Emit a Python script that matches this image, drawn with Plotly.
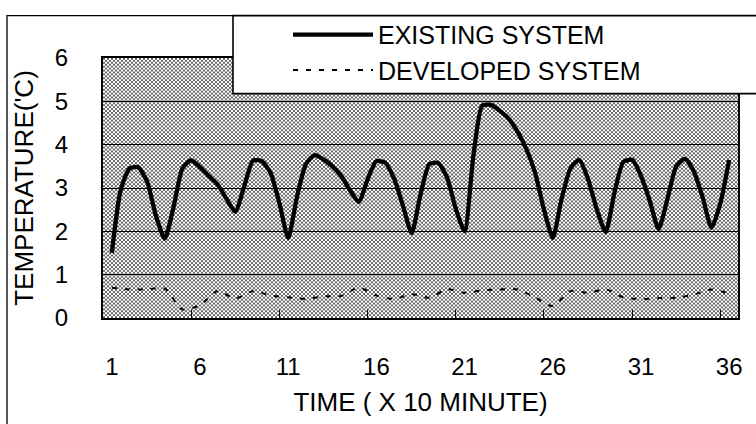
import base64
import struct
import zlib
import plotly.graph_objects as go

# ---- data (time in units of 10 minutes, temperature in deg C) ----
time_existing = [1 + 0.5 * i for i in range(71)]
temp_existing = [
    1.50, 2.95, 3.45, 3.48, 3.15, 2.36, 1.83, 2.56, 3.45, 3.64,
    3.48, 3.28, 3.08, 2.75, 2.45, 3.03, 3.63, 3.62, 3.35, 2.65,
    1.85, 2.80, 3.55, 3.76, 3.66, 3.50, 3.28, 2.95, 2.68, 3.20,
    3.62, 3.58, 3.22, 2.60, 1.96, 2.85, 3.55, 3.58, 3.25, 2.52,
    2.00, 3.75, 4.90, 4.92, 4.78, 4.60, 4.30, 3.90, 3.35, 2.50,
    1.85, 2.75, 3.45, 3.65, 3.20, 2.50, 1.98, 2.90, 3.60, 3.65,
    3.28, 2.70, 2.05, 2.75, 3.50, 3.67, 3.38, 2.78, 2.08, 2.65,
    3.65,
]
time_developed = list(range(1, 37))
temp_developed = [
    0.70, 0.66, 0.66, 0.68, 0.20, 0.30, 0.62, 0.45, 0.62, 0.52,
    0.48, 0.44, 0.50, 0.51, 0.70, 0.52, 0.44, 0.55, 0.47, 0.66,
    0.58, 0.64, 0.66, 0.66, 0.47, 0.28, 0.62, 0.58, 0.66, 0.48,
    0.44, 0.46, 0.47, 0.54, 0.66, 0.56,
]
x_tick_values = [1, 6, 11, 16, 21, 26, 31, 36]
x_tick_labels = ["1", "6", "11", "16", "21", "26", "31", "36"]
x_minor_ticks = [5.5, 10.5, 15.5, 20.5, 25.5, 30.5, 35.5]
y_tick_values = [0, 1, 2, 3, 4, 5, 6]
series_names = ["EXISTING SYSTEM", "DEVELOPED SYSTEM"]


def stipple_png(w, h):
    rows = bytearray()
    for y in range(h):
        rows.append(0)
        for x in range(w):
            black = ((x // 2) + (y // 2)) % 2 == 0
            rows.append(105 if black else 255)
    raw = zlib.compress(bytes(rows), 9)

    def chunk(t, d):
        return struct.pack(">I", len(d)) + t + d + struct.pack(">I", zlib.crc32(t + d) & 0xFFFFFFFF)

    png = (b"\x89PNG\r\n\x1a\n"
           + chunk(b"IHDR", struct.pack(">IIBBBBB", w, h, 8, 0, 0, 0, 0))
           + chunk(b"IDAT", raw) + chunk(b"IEND", b""))
    return "data:image/png;base64," + base64.b64encode(png).decode()


FONT = "Liberation Sans, Arial, sans-serif"
W, H = 756, 424
ML, MR, MT, MB = 103, 18, 53, 101
PW, PH = W - ML - MR, H - MT - MB


def px_x(p):
    return (p - ML) / PW


def px_y(p):
    return (H - MB - p) / PH


fig = go.Figure()
fig.add_trace(go.Scatter(
    x=time_existing, y=temp_existing, name=series_names[0], mode="lines",
    line=dict(color="black", width=4.3, shape="spline", smoothing=0.6),
))
fig.add_trace(go.Scatter(
    x=time_developed, y=temp_developed, name=series_names[1], mode="lines",
    line=dict(color="black", width=2, dash="5px,8px", shape="spline", smoothing=0.8),
))

fig.update_layout(
    width=W, height=H,
    margin=dict(l=ML, r=MR, t=MT, b=MB),
    paper_bgcolor="white",
    plot_bgcolor="rgba(0,0,0,0)",
    font=dict(family=FONT, color="black", size=24),
    showlegend=True,
    legend=dict(
        x=px_x(288), y=px_y(5), xanchor="left", yanchor="top",
        bgcolor="rgba(0,0,0,0)", borderwidth=0,
        font=dict(family=FONT, size=25, color="black"),
        itemwidth=80, tracegroupgap=0,
    ),
    images=[dict(
        source=stipple_png(PW, PH), xref="paper", yref="paper",
        x=0, y=1, sizex=1, sizey=1, xanchor="left", yanchor="top",
        sizing="stretch", layer="below",
    )],
    shapes=[
        # outer frame of the figure
        dict(type="rect", xref="paper", yref="paper",
             x0=px_x(7), x1=px_x(790), y0=px_y(470), y1=px_y(9),
             line=dict(color="black", width=1.3), fillcolor="rgba(0,0,0,0)", layer="above"),
        # legend box
        dict(type="rect", xref="paper", yref="paper",
             x0=px_x(233), x1=px_x(800), y0=px_y(90), y1=px_y(9),
             line=dict(color="black", width=1.6), fillcolor="white", layer="above"),
    ],
)

fig.update_xaxes(
    range=[0.5, 36.5],
    tickmode="array", tickvals=x_tick_values, ticktext=x_tick_labels,
    ticks="", ticklabelstandoff=26,
    tickfont=dict(family=FONT, size=24, color="black"),
    showgrid=False, zeroline=False,
    showline=True, linecolor="black", linewidth=2, mirror=True,
    minor=dict(tickmode="array", tickvals=x_minor_ticks, ticks="inside",
               ticklen=8, tickwidth=1.3, tickcolor="black", showgrid=False),
    title=dict(text="TIME ( X 10 MINUTE)", standoff=14,
               font=dict(family=FONT, size=26, color="black")),
)
fig.update_yaxes(
    range=[0, 6], tickmode="array", tickvals=y_tick_values,
    ticks="", ticklabelstandoff=28,
    tickfont=dict(family=FONT, size=24, color="black"),
    showgrid=True, gridcolor="black", gridwidth=1.1,
    zeroline=False,
    showline=True, linecolor="black", linewidth=2, mirror=True,
    title=dict(text="TEMPERATURE('C)", standoff=14,
               font=dict(family=FONT, size=26, color="black")),
)

fig.write_html(
    "out.html",
    config={"displayModeBar": False},
    post_script="document.body.style.margin='0';document.body.style.overflow='hidden';",
)
